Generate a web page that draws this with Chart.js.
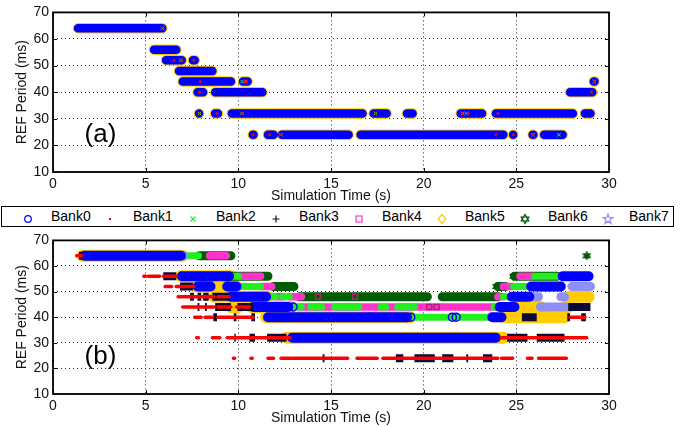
<!DOCTYPE html>
<html>
<head>
<meta charset="utf-8">
<script src="https://cdn.jsdelivr.net/npm/chart.js@4.4.0/dist/chart.umd.min.js"></script>
<style>
body { margin: 0; background: #fff; font-family: "Liberation Sans", Arial, sans-serif; }
#wrap { position: relative; width: 683px; height: 427px; overflow: hidden; }
canvas { position: absolute; left: 0; }
#c1 { top: 0; }
#c2 { top: 228px; }
#legendBox { position: absolute; left: 1px; top: 206px; width: 671px; height: 19px; border: 1.5px solid #000; }
.lt { position: absolute; top: 207px; height: 19px; line-height: 19px; font-size: 14px; color: #000; white-space: nowrap; }
.lm { position: absolute; top: 211px; width: 12px; height: 12px; }
</style>
</head>
<body>
<div id="wrap">
  <canvas id="c1" width="683" height="205"></canvas>
  <div id="legendBox"></div>
  <canvas id="c2" width="683" height="199"></canvas>
</div>
<script>
// runs of dense markers: [start (s), end (s), REF period (ms)]
const bankNames = ['Bank0', 'Bank1', 'Bank2', 'Bank3', 'Bank4', 'Bank5', 'Bank6', 'Bank7'];
const bankColors = ['#0000ff', '#ff0000', '#22ee22', '#0a0a35', '#ff33cc', '#ffcc00', '#005c00', '#8f8ff5'];
const bankMarkers = ['circle', 'dot', 'x', 'plus', 'square', 'diamond', 'hexagram', 'pentagram'];

// ---- panel (a) ----
const aBank0 = [
  [1.35, 5.9, 64],
  [5.45, 6.65, 56],
  [6.1, 6.95, 52], [7.55, 7.65, 52],
  [6.8, 8.6, 48],
  [7.0, 9.6, 44], [10.25, 10.5, 44], [29.18, 29.22, 44],
  [7.8, 8.1, 40], [8.75, 11.3, 40], [27.9, 29.1, 40],
  [7.88, 7.92, 32], [8.75, 8.9, 32], [9.65, 16.7, 32], [17.3, 18.0, 32], [19.1, 19.4, 32],
  [22.0, 23.15, 32], [23.9, 28.05, 32], [28.7, 29.0, 32],
  [10.78, 10.82, 24], [11.6, 11.9, 24], [12.35, 15.95, 24], [16.6, 24.3, 24],
  [24.83, 24.87, 24], [25.88, 25.92, 24], [26.5, 27.5, 24]
];
// yellow diamonds show as an edge round the blue runs
const aBank5 = aBank0;
const aBank1 = [
  [5.9, 64], [6.55, 52], [6.95, 52], [7.6, 52], [7.95, 44], [7.9, 40], [7.9, 32], [8.85, 32],
  [10.2, 32], [10.3, 44], [10.45, 44], [10.8, 24], [11.7, 24], [12.3, 24], [17.4, 32],
  [22.1, 32], [22.4, 32], [24.0, 32], [24.85, 24], [25.9, 24], [29.2, 44], [29.05, 40], [23.9, 24]
];
const aBank2 = [
  [5.9, 64], [6.9, 52], [7.9, 32], [10.2, 44], [10.35, 44], [12.3, 24], [17.4, 32],
  [22.1, 32], [22.3, 32], [25.9, 24], [29.2, 44], [27.3, 24], [10.2, 32]
];

// ---- panel (b) ----
const bBank0 = [
  [1.7, 6.9, 64],
  [6.95, 9.5, 56], [27.5, 28.9, 56],
  [7.8, 8.5, 52], [9.4, 9.9, 52], [25.8, 27.4, 52],
  [9.6, 11.5, 48], [24.75, 25.7, 48],
  [10.8, 12.7, 44], [24.1, 24.9, 44],
  [11.6, 19.1, 40], [23.7, 24.2, 40],
  [12.9, 23.9, 32]
];
const bBank0Rings = [[17.15, 40], [19.3, 40], [21.55, 40], [21.75, 40], [12.95, 44]];
const bBank1 = [
  [1.28, 1.55, 64],
  [4.9, 5.0, 56], [5.15, 5.75, 56], [5.95, 6.65, 56],
  [6.05, 6.4, 52], [6.65, 6.85, 52], [6.9, 7.6, 52],
  [6.75, 8.7, 48], [8.9, 9.5, 48],
  [7.0, 8.7, 44], [8.9, 9.6, 44], [9.9, 10.6, 44],
  [7.65, 8.0, 40], [8.2, 8.6, 40], [8.9, 10.8, 40], [27.9, 28.7, 40],
  [7.75, 7.85, 32], [8.6, 9.0, 32], [9.4, 12.8, 32], [24.2, 28.8, 32],
  [9.73, 9.8, 24], [10.68, 10.75, 24], [11.6, 11.9, 24], [12.3, 12.9, 24], [13.0, 15.9, 24],
  [16.4, 17.5, 24], [17.8, 24.0, 24], [24.2, 24.8, 24], [25.6, 25.85, 24], [26.2, 27.7, 24]
];
const bBank2 = [
  [7.1, 7.85, 64],
  [9.6, 10.0, 56], [26.0, 27.2, 56],
  [10.2, 11.2, 52], [24.85, 25.5, 52],
  [11.55, 12.0, 48], [12.4, 12.75, 48], [24.3, 24.6, 48],
  [12.9, 13.4, 44], [13.9, 14.5, 44], [15.2, 16.5, 44], [17.7, 17.95, 44], [18.6, 19.1, 44],
  [19.3, 19.5, 44], [23.8, 24.0, 44],
  [13.45, 13.9, 40], [16.6, 17.0, 40], [19.1, 23.5, 40]
];
const bBank3 = [
  [1.4, 1.6, 64],
  [5.95, 6.65, 56],
  [6.85, 7.55, 52],
  [7.4, 7.6, 48], [7.8, 8.0, 48], [8.1, 8.4, 48], [8.6, 9.5, 48],
  [7.8, 7.9, 44], [8.2, 8.3, 44], [8.75, 9.6, 44], [9.95, 10.8, 44], [27.8, 29.0, 44],
  [8.65, 8.85, 40], [9.75, 9.9, 40], [10.7, 10.9, 40], [25.3, 26.1, 40], [27.75, 27.9, 40], [28.5, 28.75, 40],
  [9.78, 9.86, 32], [10.6, 10.9, 32], [11.55, 12.6, 32], [24.5, 25.6, 32], [26.1, 27.6, 32],
  [14.55, 14.65, 24], [18.5, 18.9, 24], [19.5, 20.6, 24], [21.0, 21.6, 24], [22.3, 22.4, 24], [23.2, 23.7, 24]
];
const bBank4 = [
  [8.45, 9.35, 64],
  [10.0, 11.2, 56], [25.2, 25.9, 56],
  [11.2, 11.8, 52], [24.3, 24.8, 52],
  [12.0, 12.4, 48], [12.75, 13.4, 48], [24.0, 24.3, 48],
  [13.3, 24.0, 44]
];
const bBank4Squares = [[14.3, 48], [16.3, 48], [20.3, 44], [20.7, 44]];
const bBank5 = [
  [1.6, 7.0, 64], [6.9, 9.6, 56], [7.7, 9.9, 52], [8.7, 9.2, 48], [9.5, 11.6, 48], [27.9, 28.9, 48],
  [9.6, 10.0, 44], [10.7, 12.8, 44], [25.2, 26.3, 44], [27.6, 27.8, 44],
  [11.5, 19.3, 40], [24.3, 27.6, 40], [12.6, 24.3, 32]
];
const bBank6 = [
  [7.9, 9.6, 64],
  [9.5, 11.6, 56], [24.9, 27.2, 56],
  [11.9, 13.0, 52], [24.0, 24.4, 52],
  [13.3, 20.2, 48], [21.0, 24.0, 48]
];
const bBank6Points = [[28.8, 64], [24.85, 56], [23.95, 52]];
const bBank7 = [
  [6.9, 7.05, 64],
  [28.0, 29.0, 52],
  [25.8, 26.2, 48], [27.4, 27.6, 48],
  [26.3, 27.7, 44]
];

// ---- helpers ----
function toLine(runs) {
  const out = [];
  runs.forEach(r => {
    out.push({x: r[0], y: r[2]}, {x: r[1], y: r[2]}, {x: r[1], y: null});
  });
  return out;
}
function runSet(runs, color, width, order, cap) {
  return {
    data: toLine(runs), showLine: true, spanGaps: false,
    borderColor: color, borderWidth: width, borderCapStyle: cap || 'round',
    pointRadius: 0, order: order
  };
}
function pointSet(pts, style, radius, color, fill, width, order) {
  return {
    data: pts.map(p => ({x: p[0], y: p[1]})), showLine: false,
    pointStyle: style, pointRadius: radius, borderColor: color,
    backgroundColor: fill, borderWidth: width, order: order
  };
}
function hexagramImg(color) {
  const c = document.createElement('canvas');
  c.width = 9; c.height = 9;
  const g = c.getContext('2d');
  g.fillStyle = color; g.strokeStyle = color; g.lineWidth = 1.2;
  g.beginPath(); g.moveTo(4.5, 0.8); g.lineTo(8, 6.5); g.lineTo(1, 6.5); g.closePath();
  g.moveTo(4.5, 8.2); g.lineTo(1, 2.5); g.lineTo(8, 2.5); g.closePath();
  g.stroke(); g.fill();
  return c;
}

const font = {family: '"Liberation Sans", Arial, sans-serif', size: 14};

const frame = {
  id: 'frame',
  afterDraw(chart, args, opts) {
    const ctx = chart.ctx, a = chart.chartArea;
    const xs = chart.scales.x, ys = chart.scales.y;
    ctx.save();
    ctx.strokeStyle = '#000';
    ctx.lineWidth = 1;
    ctx.beginPath();
    xs.ticks.forEach(t => {
      const px = Math.round(xs.getPixelForValue(t.value)) + 0.5;
      ctx.moveTo(px, a.bottom); ctx.lineTo(px, a.bottom - 4);
      ctx.moveTo(px, a.top); ctx.lineTo(px, a.top + 4);
    });
    ys.ticks.forEach(t => {
      const py = Math.round(ys.getPixelForValue(t.value)) + 0.5;
      ctx.moveTo(a.left, py); ctx.lineTo(a.left + 4, py);
      ctx.moveTo(a.right, py); ctx.lineTo(a.right - 4, py);
    });
    ctx.stroke();
    ctx.lineWidth = 1.8;
    ctx.strokeRect(a.left, a.top, a.right - a.left, a.bottom - a.top);
    ctx.fillStyle = '#000';
    ctx.font = '26px "Liberation Sans", Arial, sans-serif';
    ctx.textAlign = 'center';
    ctx.textBaseline = 'middle';
    ctx.fillText(opts.text, xs.getPixelForValue(opts.x), ys.getPixelForValue(opts.y));
    ctx.restore();
  }
};

function makeChart(id, datasets, label, padTop) {
  return new Chart(document.getElementById(id), {
    type: 'scatter',
    data: {datasets: datasets},
    options: {
      responsive: false, animation: false, events: [],
      layout: {padding: {left: 0, right: 74, top: padTop, bottom: 0}},
      plugins: {legend: {display: false}, tooltip: {enabled: false}, frame: {text: label.text, x: label.x, y: label.y}},
      scales: {
        x: {
          type: 'linear', min: 0, max: 30,
          afterFit: s => { s.height = 33; },
          ticks: {stepSize: 5, padding: 4, font: font, color: '#111', maxRotation: 0},
          grid: {color: '#222', lineWidth: 1, drawTicks: false},
          border: {display: false, dash: [1, 3]},
          title: {display: true, text: 'Simulation Time (s)', font: font, color: '#111', padding: {top: 0, bottom: 0}}
        },
        y: {
          type: 'linear', min: 10, max: 70,
          afterFit: s => { s.width = 53; },
          ticks: {stepSize: 10, padding: 4, font: font, color: '#111'},
          grid: {color: '#222', lineWidth: 1, drawTicks: false},
          border: {display: false, dash: [1, 3]},
          title: {display: true, text: 'REF Period (ms)', font: font, color: '#111', padding: {top: 14, bottom: 0}}
        }
      }
    },
    plugins: [frame]
  });
}

const C = bankColors;

makeChart('c1', [
  runSet(aBank5, C[5], 10.5, 9),
  runSet(aBank0, C[0], 8.5, 5),
  pointSet(aBank2, 'crossRot', 2.5, C[2], C[2], 1, 3),
  pointSet(aBank1, 'circle', 1, C[1], C[1], 1, 2)
], {text: '(a)', x: 2.56, y: 23.9}, 12);

makeChart('c2', [
  runSet(bBank5, C[5], 12, 20),
  runSet(bBank6, C[6], 9, 18),
  pointSet(bBank6Points, hexagramImg(C[6]), 4, C[6], C[6], 1, 17),
  runSet(bBank4, C[4], 7.5, 16),
  pointSet(bBank4Squares, 'rect', 3.5, '#b0207a', 'rgba(0,0,0,0)', 1.5, 15),
  runSet(bBank2, C[2], 7, 14),
  runSet(bBank7, C[7], 9, 12),
  runSet(bBank0, C[0], 10, 10),
  pointSet(bBank0Rings, 'circle', 4, C[0], 'rgba(0,0,0,0)', 1.5, 9),
  runSet(bBank3, C[3], 8, 6, 'butt'),
  runSet(bBank1, C[1], 3.5, 4)
], {text: '(b)', x: 2.56, y: 24.6}, 6);

// ---- legend ----
const markerX = [28, 110, 193, 276, 359, 442, 525, 608];
const textX = [51, 133, 216, 299, 382, 465, 548, 629];
function markerSvg(kind, color) {
  const s = 'fill="none" stroke="' + color + '" stroke-width="1.2"';
  let body = '';
  if (kind === 'circle') body = '<circle cx="6" cy="6" r="3.3" ' + s + '/>';
  if (kind === 'dot') body = '<circle cx="6" cy="6" r="1.2" fill="' + color + '"/>';
  if (kind === 'x') body = '<path d="M3.5 3.5L8.5 8.5M8.5 3.5L3.5 8.5" ' + s + '/>';
  if (kind === 'plus') body = '<path d="M6 2.5V9.5M2.5 6H9.5" ' + s + '/>';
  if (kind === 'square') body = '<rect x="3" y="3" width="6" height="6" ' + s + '/>';
  if (kind === 'diamond') body = '<polygon points="6,1.5 9.8,6 6,10.5 2.2,6" ' + s + '/>';
  if (kind === 'hexagram') body = '<polygon points="6,1.5 9.8,8 2.2,8" ' + s + '/><polygon points="6,10.5 2.2,4 9.8,4" ' + s + '/>';
  if (kind === 'pentagram') body = '<polygon points="6,1 7.2,4.6 11,4.6 7.9,6.9 9.1,10.6 6,8.3 2.9,10.6 4.1,6.9 1,4.6 4.8,4.6" ' + s + '/>';
  return '<svg width="12" height="12" viewBox="0 0 12 12">' + body + '</svg>';
}
const wrap = document.getElementById('wrap');
bankNames.forEach((name, i) => {
  const m = document.createElement('div');
  m.className = 'lm';
  m.style.left = (markerX[i] - 6) + 'px';
  m.innerHTML = markerSvg(bankMarkers[i], bankColors[i]);
  wrap.appendChild(m);
  const t = document.createElement('div');
  t.className = 'lt';
  t.style.left = textX[i] + 'px';
  t.textContent = name;
  wrap.appendChild(t);
});
</script>
</body>
</html>
